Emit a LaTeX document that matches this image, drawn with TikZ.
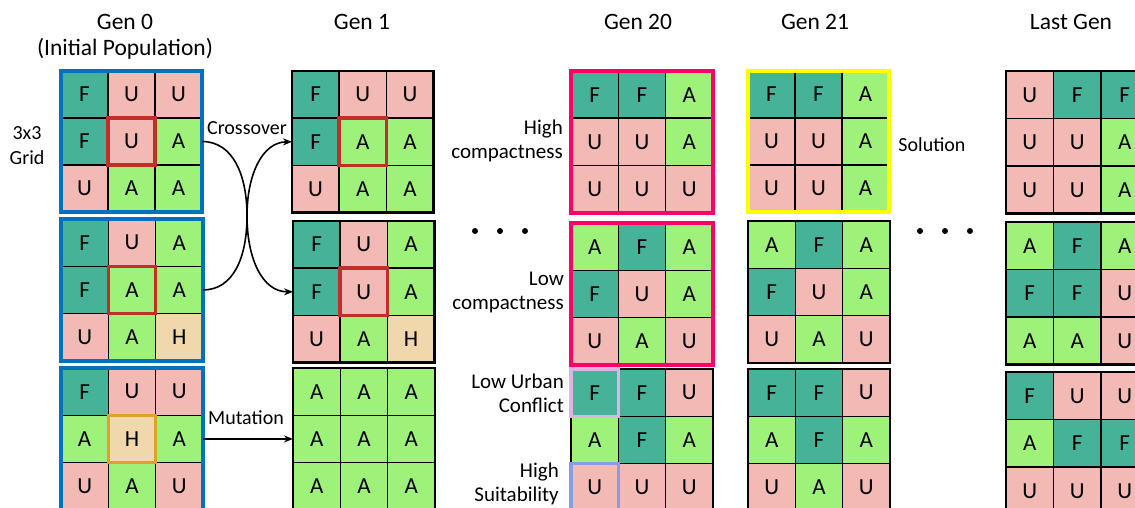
\documentclass[tikz,border=0pt]{standalone}
\usepackage{fontspec}
\setmainfont{Carlito}
\usetikzlibrary{arrows.meta}
\definecolor{colF}{HTML}{46B298}
\definecolor{colU}{HTML}{F2B9B5}
\definecolor{colA}{HTML}{9EF27A}
\definecolor{colH}{HTML}{F0D8AC}
\definecolor{bblue}{HTML}{0070C0}
\definecolor{hred}{HTML}{C0302A}
\definecolor{horange}{HTML}{E0A030}
\definecolor{bpink}{HTML}{FF0066}
\definecolor{byellow}{HTML}{FFFF00}
\definecolor{blav}{HTML}{DDB5E5}
\definecolor{bviolet}{HTML}{8A9AE6}
\newcommand\cellfont{\fontsize{23}{27}\selectfont}
\newcommand\labfont{\fontsize{20}{25}\selectfont}
\newcommand\sidefont{\fontsize{21}{24}\selectfont}
\newcommand\titlefont{\fontsize{23.5}{28}\selectfont}
% #1 name, #2 x0, #3 y0, #4 step, #5 letters
\newcommand\cellgrid[5]{%
  \foreach \l [count=\i from 0] in {#5} {
    \pgfmathtruncatemacro\rr{\i/3}
    \pgfmathtruncatemacro\cc{mod(\i,3)}
    \node[cell={#4}, fill=col\l] (#1-\rr\cc) at ({#2+(\cc+0.5)*#4},{#3+(\rr+0.5)*#4}) {\l};
  }
  \draw[gridframe] (#1-00.north west) rectangle (#1-22.south east);
}
\newcommand\markcell[2]{\draw[#2] (#1.north west) rectangle (#1.south east);}
\begin{document}
\begin{tikzpicture}[x=1pt,y=-1pt,
  cell/.style={draw=black, line width=1.6pt, minimum size=#1pt, inner sep=0pt, outer sep=0pt, font=\cellfont},
  gridframe/.style={draw=black, line width=2.4pt},
  frame/.style={draw=#1, line width=4pt},
  hl/.style={draw=#1, line width=3.5pt},
  lab/.style={font=\labfont, inner sep=0pt},
  side/.style={font=\sidefont, inner sep=0pt, align=right, anchor=east},
  title/.style={font=\titlefont, inner sep=0pt},
  conn/.style={draw=black, line width=1.6pt, -{Stealth[length=9pt,width=7pt]}},
  dot/.style={fill=black}]
\useasboundingbox (0,0) rectangle (1135,508);
\clip (0,0) rectangle (1135,508);

% Gen 0
\cellgrid{ga}{61}{71}{47}{F,U,U,F,U,A,U,A,A}
\cellgrid{gb}{61}{219}{47.3}{F,U,A,F,A,A,U,A,H}
\cellgrid{gc}{61}{368}{47.3}{F,U,U,A,H,A,U,A,U}
% Gen 1
\cellgrid{ha}{292}{71}{47.2}{F,U,U,F,A,A,U,A,A}
\cellgrid{hb}{293}{221}{47.2}{F,U,A,F,U,A,U,A,H}
\cellgrid{hc}{293}{368}{47.3}{A,A,A,A,A,A,A,A,A}
% Gen 20
\cellgrid{ka}{571}{71}{47.3}{F,F,A,U,U,A,U,U,U}
\cellgrid{kb}{571}{223}{47.3}{A,F,A,F,U,A,U,A,U}
\cellgrid{kc}{571}{369}{47.3}{F,F,U,A,F,A,U,U,U}
% Gen 21
\cellgrid{ma}{748}{71}{47}{F,F,A,U,U,A,U,U,A}
\cellgrid{mb}{748}{221}{47.3}{A,F,A,F,U,A,U,A,U}
\cellgrid{mc}{748}{369}{47.3}{F,F,U,A,F,A,U,A,U}
% Last Gen
\cellgrid{na}{1006}{71}{47.5}{U,F,F,U,U,A,U,U,A}
\cellgrid{nb}{1006}{222}{47.5}{A,F,A,F,F,U,A,A,U}
\cellgrid{nc}{1006}{372}{47.5}{F,U,U,A,F,F,U,U,U}

% coloured frames
\draw[frame=bblue] (ga-00.north west) rectangle (ga-22.south east);
\draw[frame=bblue] (gb-00.north west) rectangle (gb-22.south east);
\draw[frame=bblue] (gc-00.north west) rectangle (gc-22.south east);
\draw[frame=bpink] (ka-00.north west) rectangle (ka-22.south east);
\draw[frame=bpink] (kb-00.north west) rectangle (kb-22.south east);
\draw[frame=byellow] (ma-00.north west) rectangle (ma-22.south east);

% highlighted cells
\markcell{ga-11}{hl=hred}
\markcell{gb-11}{hl=hred}
\markcell{gc-11}{hl=horange}
\markcell{ha-11}{hl=hred}
\markcell{hb-11}{hl=hred}
\markcell{kc-00}{hl=blav}
\markcell{kc-20}{hl=bviolet}

% titles
\node[title] (t0) at (125,22) {Gen 0};
\node[title] (t0b) at (125,49) {(Initial Population)};
\node[title] (t1) at (362,22) {Gen 1};
\node[title] (t20) at (638,22) {Gen 20};
\node[title] (t21) at (815,22) {Gen 21};
\node[title] (tl) at (1071,22) {Last Gen};

% side labels
\node[lab, align=center] (grid) at (27,146) {3x3\\Grid};
\node[lab] (cross) at (247,128) {Crossover};
\node[lab] (mut) at (246,418) {Mutation};
\node[side] (hc1) at (563,141) {High\\compactness};
\node[side] (lc1) at (564,292) {Low\\compactness};
\node[side] (luc) at (564,393) {Low Urban\\Conflict};
\node[side] (hs) at (559,484) {High\\Suitability};
\node[lab] (sol) at (932,145) {Solution};

% dots
\fill[dot] (475,231) circle (3pt) (500,231) circle (3pt) (525,231) circle (3pt);
\fill[dot] (920,231) circle (3pt) (945,231) circle (3pt) (970,231) circle (3pt);

% connectors
\coordinate (xc) at (247,216);
\draw[conn] (ga-12.east) .. controls (233,141.5) and (247,175) .. (xc) .. controls (247,258) and (262,292) .. (hb-10.west);
\draw[conn] (gb-12.east) .. controls (233,290) and (247,258) .. (xc) .. controls (247,175) and (262,142) .. (ha-10.west);
\draw[conn] (gc-12.east) -- (hc-10.west);
\end{tikzpicture}
\end{document}
